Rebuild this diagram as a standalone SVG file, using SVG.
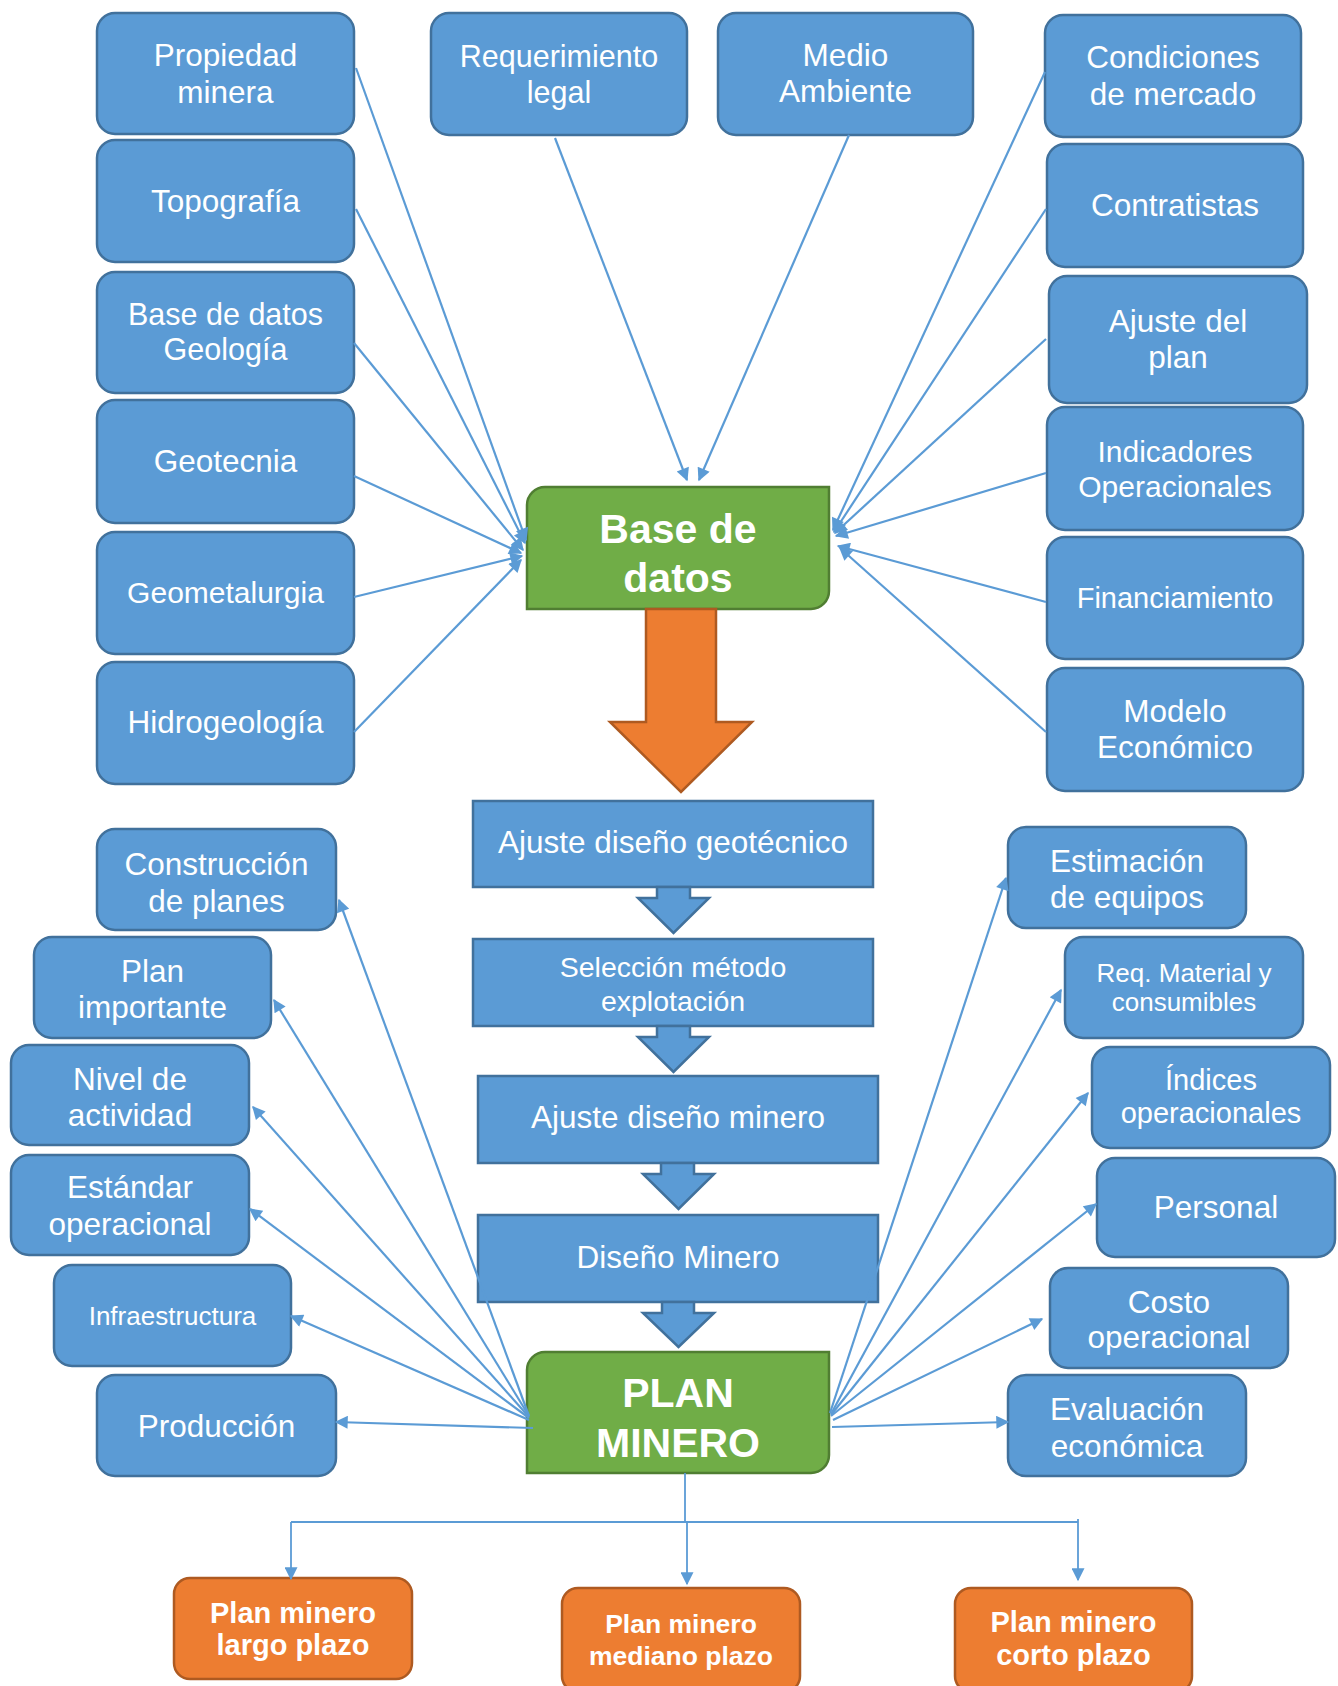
<svg xmlns="http://www.w3.org/2000/svg" width="1338" height="1686" viewBox="0 0 1338 1686">
<defs>
<style>
.b{fill:#5B9BD5;stroke:#41719C;stroke-width:2.5}
.g{fill:#70AD47;stroke:#507E32;stroke-width:2.5}
.o{fill:#ED7D31;stroke:#AE5A21;stroke-width:2.5}
.t{font-family:"Liberation Sans",Arial,sans-serif;fill:#fff;text-anchor:middle;font-size:31.5px}
.tb{font-family:"Liberation Sans",Arial,sans-serif;fill:#fff;text-anchor:middle;font-weight:bold}
.c{stroke:#5B9BD5;stroke-width:2.2;fill:none;marker-end:url(#ah)}
.cl{stroke:#5B9BD5;stroke-width:1.8;fill:none}
</style>
<marker id="ah" viewBox="0 0 10 10" refX="9" refY="5" markerWidth="16" markerHeight="13" markerUnits="userSpaceOnUse" orient="auto">
<path d="M0,0 L10,5 L0,10 z" fill="#5B9BD5"/>
</marker>
</defs>
<rect width="1338" height="1686" fill="#fff"/>

<g id="propiedad"><rect class="b" x="97" y="13" width="257" height="121" rx="18"/><text class="t" x="225.5" y="66">Propiedad</text><text class="t" x="225.5" y="103">minera</text></g>
<g id="topografia"><rect class="b" x="97" y="140" width="257" height="122" rx="18"/><text class="t" x="225.5" y="212">Topografía</text></g>
<g id="basegeologia"><rect class="b" x="97" y="272" width="257" height="121" rx="18"/><text class="t" x="225.5" y="325" style="font-size:30.5px">Base de datos</text><text class="t" x="225.5" y="360" style="font-size:30.5px">Geología</text></g>
<g id="geotecnia"><rect class="b" x="97" y="400" width="257" height="123" rx="18"/><text class="t" x="225.5" y="472">Geotecnia</text></g>
<g id="geometalurgia"><rect class="b" x="97" y="532" width="257" height="122" rx="18"/><text class="t" x="225.5" y="603" style="font-size:30px">Geometalurgia</text></g>
<g id="hidrogeologia"><rect class="b" x="97" y="662" width="257" height="122" rx="18"/><text class="t" x="225.5" y="733">Hidrogeología</text></g>

<g id="requerimiento"><rect class="b" x="431" y="13" width="256" height="122" rx="18"/><text class="t" x="559" y="67" style="font-size:30.5px">Requerimiento</text><text class="t" x="559" y="103" style="font-size:30.5px">legal</text></g>
<g id="medio"><rect class="b" x="718" y="13" width="255" height="122" rx="18"/><text class="t" x="845.5" y="66">Medio</text><text class="t" x="845.5" y="102">Ambiente</text></g>

<g id="condiciones"><rect class="b" x="1045" y="15" width="256" height="122" rx="18"/><text class="t" x="1173" y="68">Condiciones</text><text class="t" x="1173" y="105">de mercado</text></g>
<g id="contratistas"><rect class="b" x="1047" y="144" width="256" height="123" rx="18"/><text class="t" x="1175" y="216">Contratistas</text></g>
<g id="ajusteplan"><rect class="b" x="1049" y="276" width="258" height="127" rx="18"/><text class="t" x="1178" y="332">Ajuste del</text><text class="t" x="1178" y="368">plan</text></g>
<g id="indicadores"><rect class="b" x="1047" y="407" width="256" height="123" rx="18"/><text class="t" x="1175" y="462" style="font-size:30px">Indicadores</text><text class="t" x="1175" y="497" style="font-size:30px">Operacionales</text></g>
<g id="financiamiento"><rect class="b" x="1047" y="537" width="256" height="122" rx="18"/><text class="t" x="1175" y="608" style="font-size:29px">Financiamiento</text></g>
<g id="modelo"><rect class="b" x="1047" y="668" width="256" height="123" rx="18"/><text class="t" x="1175" y="722">Modelo</text><text class="t" x="1175" y="758">Económico</text></g>

<g id="basedatos"><path class="g" d="M545,487 H829 V591 A18,18 0 0 1 811,609 H527 V505 A18,18 0 0 1 545,487 Z"/><text class="tb" x="678" y="543" style="font-size:41px">Base de</text><text class="tb" x="678" y="592" style="font-size:41px">datos</text></g>

<g id="flecha-naranja"><path class="o" d="M646,609 H716 V722 H752 L681,792 L610,722 H646 Z"/></g>

<g id="ajuste-geotecnico"><rect class="b" x="473" y="801" width="400" height="86"/><text class="t" x="673" y="853">Ajuste diseño geotécnico</text></g>
<g id="flecha1"><path class="b" d="M657,887 H690 V898 H709 L673.5,933 L638,898 H657 Z"/></g>
<g id="seleccion"><rect class="b" x="473" y="939" width="400" height="87"/><text class="t" x="673" y="977" style="font-size:28.5px">Selección método</text><text class="t" x="673" y="1011" style="font-size:28.5px">explotación</text></g>
<g id="flecha2"><path class="b" d="M657,1026 H690 V1037 H709 L673.5,1072 L638,1037 H657 Z"/></g>
<g id="ajuste-minero"><rect class="b" x="478" y="1076" width="400" height="87"/><text class="t" x="678" y="1128">Ajuste diseño minero</text></g>
<g id="flecha3"><path class="b" d="M661,1163 H694 V1174 H714 L678.5,1209 L643,1174 H661 Z"/></g>
<g id="diseno-minero"><rect class="b" x="478" y="1215" width="400" height="87"/><text class="t" x="678" y="1268">Diseño Minero</text></g>
<g id="flecha4"><path class="b" d="M662,1302 H694 V1313 H714 L678.5,1347 L643,1313 H662 Z"/></g>

<g id="planminero"><path class="g" d="M545,1352 H829 V1455 A18,18 0 0 1 811,1473 H527 V1370 A18,18 0 0 1 545,1352 Z"/><text class="tb" x="678" y="1407" style="font-size:41px">PLAN</text><text class="tb" x="678" y="1457" style="font-size:41px">MINERO</text></g>

<g id="construccion"><rect class="b" x="97" y="829" width="239" height="101" rx="18"/><text class="t" x="216.5" y="875">Construcción</text><text class="t" x="216.5" y="912">de planes</text></g>
<g id="planimportante"><rect class="b" x="34" y="937" width="237" height="101" rx="18"/><text class="t" x="152.5" y="982">Plan</text><text class="t" x="152.5" y="1018">importante</text></g>
<g id="nivel"><rect class="b" x="11" y="1045" width="238" height="100" rx="18"/><text class="t" x="130" y="1090">Nivel de</text><text class="t" x="130" y="1126">actividad</text></g>
<g id="estandar"><rect class="b" x="11" y="1155" width="238" height="100" rx="18"/><text class="t" x="130" y="1198">Estándar</text><text class="t" x="130" y="1235">operacional</text></g>
<g id="infraestructura"><rect class="b" x="54" y="1265" width="237" height="101" rx="18"/><text class="t" x="172.5" y="1325" style="font-size:26px">Infraestructura</text></g>
<g id="produccion"><rect class="b" x="97" y="1375" width="239" height="101" rx="18"/><text class="t" x="216.5" y="1437">Producción</text></g>

<g id="estimacion"><rect class="b" x="1008" y="827" width="238" height="101" rx="18"/><text class="t" x="1127" y="872">Estimación</text><text class="t" x="1127" y="908">de equipos</text></g>
<g id="reqmaterial"><rect class="b" x="1065" y="937" width="238" height="101" rx="18"/><text class="t" x="1184" y="982" style="font-size:26px">Req. Material y</text><text class="t" x="1184" y="1011" style="font-size:26px">consumibles</text></g>
<g id="indices"><rect class="b" x="1092" y="1047" width="238" height="101" rx="18"/><text class="t" x="1211" y="1090" style="font-size:29px">Índices</text><text class="t" x="1211" y="1123" style="font-size:29px">operacionales</text></g>
<g id="personal"><rect class="b" x="1097" y="1158" width="238" height="99" rx="18"/><text class="t" x="1216" y="1218">Personal</text></g>
<g id="costo"><rect class="b" x="1050" y="1268" width="238" height="100" rx="18"/><text class="t" x="1169" y="1313">Costo</text><text class="t" x="1169" y="1348">operacional</text></g>
<g id="evaluacion"><rect class="b" x="1008" y="1375" width="238" height="101" rx="18"/><text class="t" x="1127" y="1420">Evaluación</text><text class="t" x="1127" y="1457">económica</text></g>

<g id="largo"><rect class="o" x="174" y="1578" width="238" height="101" rx="16"/><text class="tb" x="293" y="1623" style="font-size:29px">Plan minero</text><text class="tb" x="293" y="1655" style="font-size:29px">largo plazo</text></g>
<g id="mediano"><rect class="o" x="562" y="1588" width="238" height="104" rx="16"/><text class="tb" x="681" y="1633" style="font-size:26.5px">Plan minero</text><text class="tb" x="681" y="1665" style="font-size:26.5px">mediano plazo</text></g>
<g id="corto"><rect class="o" x="955" y="1588" width="237" height="104" rx="16"/><text class="tb" x="1073.5" y="1632" style="font-size:29px">Plan minero</text><text class="tb" x="1073.5" y="1665" style="font-size:29px">corto plazo</text></g>

<g id="connectors">
<line class="c" x1="356" y1="68" x2="526" y2="540"/>
<line class="c" x1="356" y1="209" x2="525" y2="543"/>
<line class="c" x1="354" y1="343" x2="523" y2="550"/>
<line class="c" x1="354" y1="476" x2="521" y2="553"/>
<line class="c" x1="354" y1="597" x2="522" y2="556"/>
<line class="c" x1="354" y1="732" x2="521" y2="560"/>
<line class="c" x1="555" y1="138" x2="687" y2="480"/>
<line class="c" x1="849" y1="135" x2="699" y2="480"/>
<line class="c" x1="1045" y1="72" x2="833" y2="530"/>
<line class="c" x1="1046" y1="209" x2="834" y2="532"/>
<line class="c" x1="1046" y1="339" x2="835" y2="533"/>
<line class="c" x1="1046" y1="473" x2="836" y2="536"/>
<line class="c" x1="1046" y1="602" x2="838" y2="546"/>
<line class="c" x1="1046" y1="732" x2="840" y2="548"/>
<line class="c" x1="529" y1="1416" x2="339" y2="900"/>
<line class="c" x1="529" y1="1416" x2="274" y2="1000"/>
<line class="c" x1="529" y1="1417" x2="253" y2="1107"/>
<line class="c" x1="529" y1="1418" x2="250" y2="1209"/>
<line class="c" x1="529" y1="1420" x2="291" y2="1316"/>
<line class="c" x1="533" y1="1428" x2="336" y2="1422"/>
<line class="c" x1="830" y1="1413" x2="1006" y2="878"/>
<line class="c" x1="831" y1="1414" x2="1061" y2="990"/>
<line class="c" x1="831" y1="1415" x2="1088" y2="1093"/>
<line class="c" x1="831" y1="1416" x2="1096" y2="1204"/>
<line class="c" x1="833" y1="1420" x2="1042" y2="1319"/>
<line class="c" x1="832" y1="1427" x2="1008" y2="1422"/>
<polyline class="cl" points="685,1473 685,1522"/>
<polyline class="cl" points="291,1522 1078,1522"/>
<line class="c" style="stroke-width:1.8" x1="291" y1="1522" x2="291" y2="1579"/>
<line class="c" style="stroke-width:1.8" x1="687" y1="1522" x2="687" y2="1584"/>
<line class="c" style="stroke-width:1.8" x1="1078" y1="1519" x2="1078" y2="1580"/>
</g>
</svg>
